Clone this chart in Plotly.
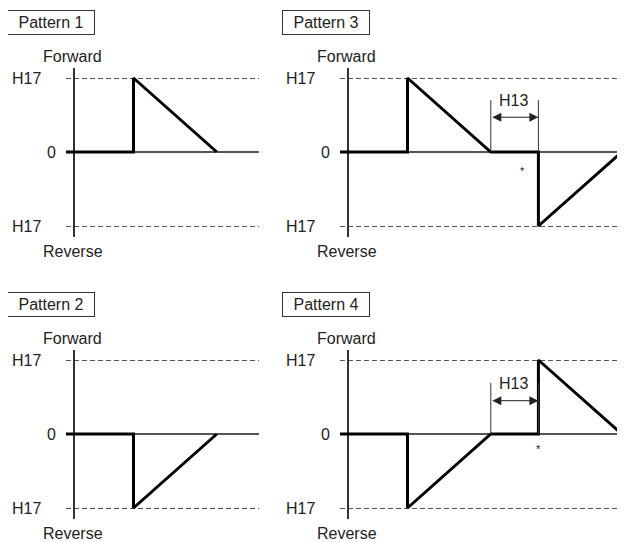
import plotly.graph_objects as go

# ---------------- data ----------------
pattern_names = ["Pattern 1", "Pattern 2", "Pattern 3", "Pattern 4"]

t_p1 = [-0.27, 2.0, 2.0, 4.8]
v_p1 = [0, 0, 1, 0]

t_p2 = [-0.27, 2.0, 2.0, 4.8]
v_p2 = [0, 0, -1, 0]

t_p3 = [-0.27, 2.0, 2.0, 4.8, 6.4, 6.4, 9.2]
v_p3 = [0, 0, 1, 0, 0, -1, 0]

t_p4 = [-0.27, 2.0, 2.0, 4.8, 6.4, 6.4, 9.2]
v_p4 = [0, 0, -1, 0, 0, 1, 0]

level_vals = [1, 0, -1]
level_labels = ["H17", "0", "H17"]

h13_label = "H13"
h13_start = [None, None, 4.8, 4.8]
h13_end = [None, None, 6.4, 6.4]
star_t = [None, None, 5.88, 6.39]
star_v = [None, None, -0.25, -0.2]

# ---------------- layout geometry (pixels) ----------------
OFF = 8                      # page body margin of the browser
W, H = 625 - OFF, 542 - OFF  # figure size that fits in the window
PX_T = 29.75   # pixels per time unit
PX_V = 74.0    # pixels per level unit
FONT = "Liberation Sans, Arial, sans-serif"
TXT = "#222222"

# (axis x px, zero line y px, right edge px) in window pixels
panels = [
    dict(axx=74, zy=152, right=259, t=t_p1, v=v_p1),
    dict(axx=74, zy=434, right=259, t=t_p2, v=v_p2),
    dict(axx=348, zy=152, right=623, t=t_p3, v=v_p3),
    dict(axx=348, zy=434, right=623, t=t_p4, v=v_p4),
]


def px(x):
    return (x - OFF) / W


def py(y):
    return 1 - (y - OFF) / H


fig = go.Figure()
annotations = []
shapes = []
layout = {}

for i, p in enumerate(panels):
    n = i + 1
    sx = "" if n == 1 else str(n)
    xa, ya = "x" + sx, "y" + sx
    axx, zy, right = p["axx"], p["zy"], p["right"]
    left = axx - 8
    top, bottom = zy - 84, zy + 85

    layout["xaxis" + sx] = dict(
        domain=[px(left), px(right)],
        range=[(left - axx) / PX_T, (right - axx) / PX_T],
        anchor=ya, showgrid=False, showticklabels=False, ticks="",
        tickvals=[], zeroline=True, zerolinecolor="#333333", zerolinewidth=1.5,
        showline=False, fixedrange=True,
    )
    layout["yaxis" + sx] = dict(
        domain=[py(bottom), py(top)],
        range=[-(bottom - zy) / PX_V, (zy - top) / PX_V],
        anchor=xa, tickvals=[v for v in level_vals if v != 0],
        showticklabels=False, ticks="", showgrid=True, gridcolor="#555555",
        griddash="5px,3px", gridwidth=1, zeroline=True, zerolinecolor="#555555",
        zerolinewidth=1.5, showline=False, fixedrange=True,
    )

    fig.add_trace(go.Scatter(
        x=p["t"], y=p["v"], mode="lines", xaxis=xa, yaxis=ya,
        line=dict(color="black", width=3), hoverinfo="skip", showlegend=False,
        cliponaxis=False,
    ))

    # pattern label box
    annotations.append(dict(
        text=pattern_names[i], xref="paper", yref="paper",
        x=px(axx - 22.5), y=py(zy - 129.5), xanchor="center", yanchor="middle",
        showarrow=False, width=86, height=23, borderwidth=1, bordercolor="#333333",
        borderpad=0, bgcolor="white", font=dict(family=FONT, size=16, color=TXT),
    ))
    # Forward / Reverse
    annotations.append(dict(
        text="Forward", xref="paper", yref="paper", x=px(axx - 1.5), y=py(zy - 96),
        xanchor="center", yanchor="middle", showarrow=False,
        font=dict(family=FONT, size=16, color=TXT),
    ))
    annotations.append(dict(
        text="Reverse", xref="paper", yref="paper", x=px(axx - 1), y=py(zy + 99),
        xanchor="center", yanchor="middle", showarrow=False,
        font=dict(family=FONT, size=16, color=TXT),
    ))
    # level labels
    for val, lab in zip(level_vals, level_labels):
        rx = axx - 31 if lab != "0" else axx - 16
        annotations.append(dict(
            text=lab, xref="paper", yref=ya, x=px(rx), y=val,
            xanchor="right", yanchor="middle", showarrow=False,
            font=dict(family=FONT, size=16, color=TXT),
        ))

    if h13_start[i] is not None:
        top_v = 0.70 if n == 3 else 0.69
        arr_v = 0.47 if n == 3 else 0.45
        for tt in (h13_start[i], h13_end[i]):
            shapes.append(dict(
                type="line", xref=xa, yref=ya, x0=tt, x1=tt, y0=0, y1=top_v,
                line=dict(color="#333333", width=1),
            ))
        annotations.append(dict(
            text="", xref=xa, yref=ya, x=h13_end[i], y=arr_v,
            axref=xa, ayref=ya, ax=h13_start[i], ay=arr_v,
            showarrow=True, arrowside="end+start", arrowhead=2, arrowsize=1.8,
            arrowwidth=1, arrowcolor="#222222", standoff=0, startstandoff=0,
        ))
        annotations.append(dict(
            text=h13_label, xref=xa, yref=ya,
            x=(h13_start[i] + h13_end[i]) / 2 - 0.05, y=top_v - 0.01,
            xanchor="center", yanchor="middle", showarrow=False,
            font=dict(family=FONT, size=16, color=TXT),
        ))
        annotations.append(dict(
            text="*", xref=xa, yref=ya, x=star_t[i], y=star_v[i],
            xanchor="center", yanchor="middle", showarrow=False,
            font=dict(family=FONT, size=11, color=TXT),
        ))

fig.update_layout(
    width=W, height=H, margin=dict(l=0, r=0, t=0, b=0),
    paper_bgcolor="white", plot_bgcolor="white", showlegend=False,
    annotations=annotations, shapes=shapes, **layout,
)

fig.write_html("out.html")
